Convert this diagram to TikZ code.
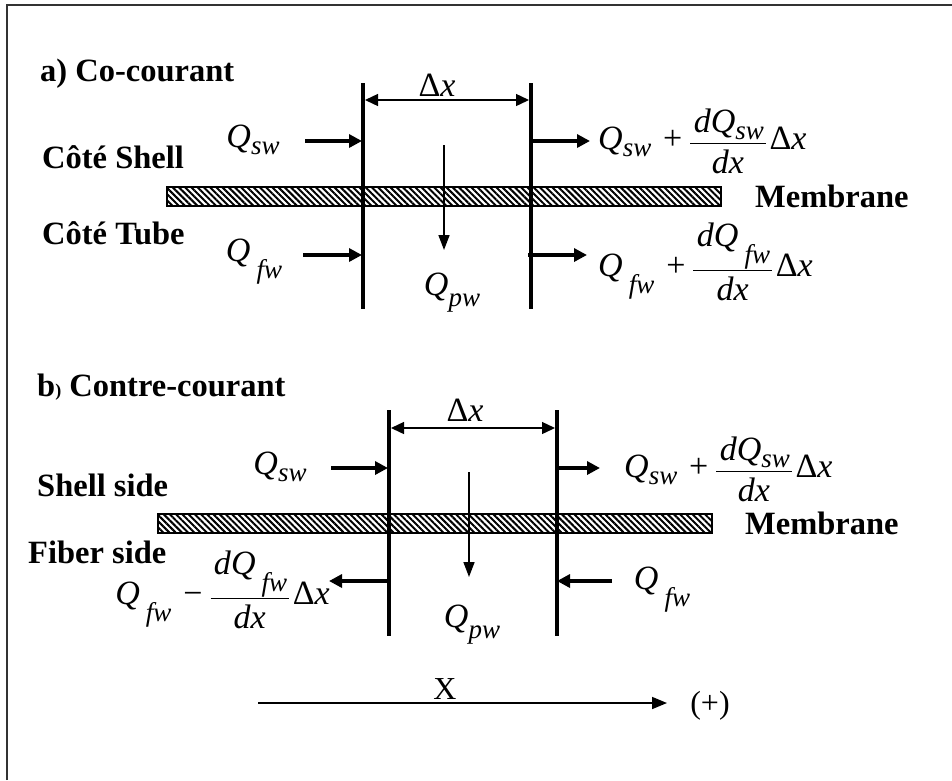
\documentclass[tikz,border=0pt]{standalone}
\usepackage{fontspec}
\setmainfont{Liberation Serif}
\usetikzlibrary{arrows.meta,patterns.meta}
\newcommand{\subs}[1]{{\fontsize{27}{27}\selectfont\textit{#1}}}
\newcommand{\Qs}{\textit{Q}\raisebox{-0.22em}{\subs{sw}}}
\newcommand{\Qf}{\textit{Q}\hspace{0.18em}\raisebox{-0.5em}{\subs{fw}}}
\newcommand{\Qp}{\textit{Q}\raisebox{-0.32em}{\subs{pw}}}
\newcommand{\Dx}{Δ\textit{x}}
\newcommand{\frc}[2]{\hspace{0.35em}#1\hspace{0.2em}$\displaystyle\frac{\mbox{\hspace{0.1em}\rule[-0.25em]{0pt}{0.8em}\textit{d}#2\hspace{0.05em}}}{\mbox{\rule{0pt}{0.85em}\textit{dx}}}$\hspace{0.08em}}
\begin{document}
\begin{tikzpicture}[x=1pt,y=-1pt,
  every node/.style={inner sep=0pt,font=\fontsize{34}{38}\selectfont},
  boldlab/.style={font=\fontsize{32.5}{36}\selectfont\bfseries},
  wall/.style={line width=4pt},
  flow/.style={line width=4pt,-{Triangle[length=13pt,width=13pt]}},
  perm/.style={line width=1.6pt,-{Triangle[length=15pt,width=11pt]}},
  span/.style={line width=1.4pt,{Triangle[length=13pt,width=12pt]}-{Triangle[length=13pt,width=12pt]}},
  memb/.style={draw,line width=1.5pt,pattern={Lines[angle=-45,distance=4.4pt,line width=2pt]}}]
\useasboundingbox (0,0) rectangle (952,780);
\draw[line width=1.3pt,black!80] (7,780) -- (7,5) -- (952,5);

% ---------- a) Co-courant ----------
\node[boldlab,anchor=base west] (ta) at (40,81) {a) Co-courant};
\coordinate (aL1) at (363,83); \coordinate (aL2) at (363,309);
\coordinate (aR1) at (531,83); \coordinate (aR2) at (531,309);
\draw[wall] (aL1) -- (aL2);
\draw[wall] (aR1) -- (aR2);
\node[memb,minimum width=554pt,minimum height=19pt,anchor=north west] (ma) at (166,186) {};
\coordinate (aDl) at (365,100); \coordinate (aDr) at (529,100);
\draw[span] (aDl) -- (aDr);
\node (adx) at (437,85) {\Dx};
\node[boldlab,anchor=west] (cs) at (42,157) {Côté Shell};
\node[boldlab,anchor=west] (ct) at (42,233) {Côté Tube};
\node[boldlab,anchor=west] (mla) at (755,196) {Membrane};
\node (qsa) at (253,140) {\Qs};
\coordinate (a1s) at (305,141); \coordinate (a1e) at (362,141);
\draw[flow] (a1s) -- (a1e);
\coordinate (a2s) at (531,141); \coordinate (a2e) at (590,141);
\draw[flow] (a2s) -- (a2e);
\node[anchor=west] (rsa) at (598,141) {\Qs\frc{+}{\Qs}\Dx};
\coordinate (p1s) at (444,145); \coordinate (p1e) at (444,250);
\draw[perm] (p1s) -- (p1e);
\node (qfa) at (254,262) {\Qf};
\coordinate (a3s) at (303,255); \coordinate (a3e) at (362,255);
\draw[flow] (a3s) -- (a3e);
\coordinate (a4s) at (528,255); \coordinate (a4e) at (587,255);
\draw[flow] (a4s) -- (a4e);
\node[anchor=west] (rfa) at (598,262) {\Qf\frc{+}{\Qf}\Dx};
\node (qpa) at (452,293) {\Qp};

% ---------- b) Contre-courant ----------
\node[boldlab,anchor=base west] (tb) at (37,396) {b{\fontsize{18}{20}\selectfont)} Contre-courant};
\coordinate (bL1) at (389,410); \coordinate (bL2) at (389,636);
\coordinate (bR1) at (557,410); \coordinate (bR2) at (557,636);
\draw[wall] (bL1) -- (bL2);
\draw[wall] (bR1) -- (bR2);
\node[memb,minimum width=554pt,minimum height=19pt,anchor=north west] (mb) at (157,513) {};
\coordinate (bDl) at (391,428); \coordinate (bDr) at (555,428);
\draw[span] (bDl) -- (bDr);
\node (bdx) at (465,410) {\Dx};
\node[boldlab,anchor=west] (ss) at (37,485) {Shell side};
\node[boldlab,anchor=west] (fs) at (28,552) {Fiber side};
\node[boldlab,anchor=west] (mlb) at (745,523) {Membrane};
\node (qsb) at (280,467) {\Qs};
\coordinate (b1s) at (331,468); \coordinate (b1e) at (388,468);
\draw[flow] (b1s) -- (b1e);
\coordinate (b2s) at (557,468); \coordinate (b2e) at (600,468);
\draw[flow] (b2s) -- (b2e);
\node[anchor=west] (rsb) at (624,469) {\Qs\frc{+}{\Qs}\Dx};
\coordinate (p2s) at (469,472); \coordinate (p2e) at (469,577);
\draw[perm] (p2s) -- (p2e);
\coordinate (b3s) at (388,581); \coordinate (b3e) at (329,581);
\draw[flow] (b3s) -- (b3e);
\node[anchor=east] (lfb) at (330,590) {\Qf\frc{−}{\Qf}\Dx};
\coordinate (b4s) at (612,581); \coordinate (b4e) at (557,581);
\draw[flow] (b4s) -- (b4e);
\node (qfb) at (662,590) {\Qf};
\node (qpb) at (472,625) {\Qp};

% ---------- axis ----------
\coordinate (xs) at (258,703); \coordinate (xe) at (667,703);
\draw[line width=1.6pt,-{Triangle[length=15pt,width=12pt]}] (xs) -- (xe);
\node[font=\fontsize{32}{36}\selectfont] (xl) at (445,689) {X};
\node[font=\fontsize{32}{36}\selectfont] (pl) at (710,706) {(+)};
\end{tikzpicture}
\end{document}
